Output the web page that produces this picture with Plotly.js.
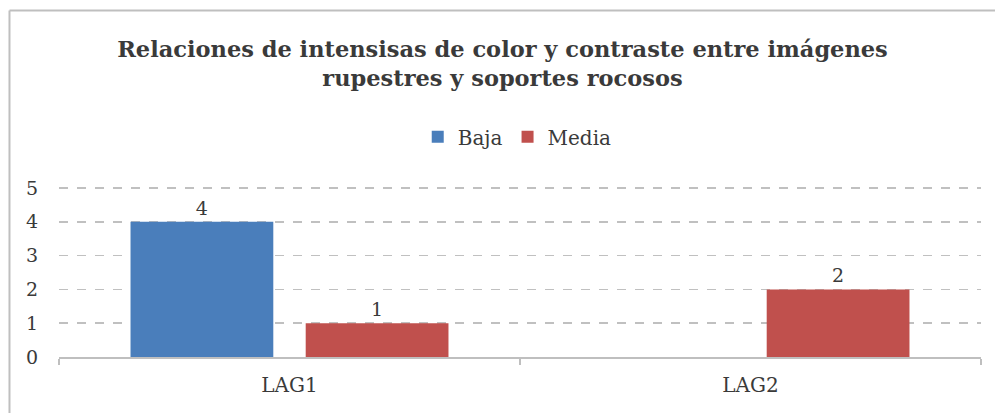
<!DOCTYPE html>
<html><head><meta charset="utf-8">
<script src="https://cdn.plot.ly/plotly-3.0.1.min.js"></script>
<style>html,body{margin:0;padding:0;background:#fff}#chart{width:995px;height:413px}</style>
</head><body><div id="chart"></div>
<script>
const categories = ["LAG1", "LAG2"];
const bajaValues = [4, null];
const mediaValues = [1, 2];
const seriesNames = ["Baja", "Media"];
const yTicks = [0, 1, 2, 3, 4, 5];

const serif = "DejaVu Serif";
const textColor = "#3a3a3a";

const traces = [
  {type: "bar", name: seriesNames[0], x: categories, y: bajaValues,
   marker: {color: "#4a7ebb"}, text: bajaValues.map(v => v == null ? "" : String(v)),
   textposition: "outside", cliponaxis: false,
   textfont: {family: serif, size: 19, color: textColor}},
  {type: "bar", name: seriesNames[1], x: categories, y: mediaValues,
   marker: {color: "#c0504d"}, text: mediaValues.map(v => v == null ? "" : String(v)),
   textposition: "outside", cliponaxis: false,
   textfont: {family: serif, size: 19, color: textColor}}
];

const layout = {
  width: 995, height: 413,
  margin: {l: 59, r: 14, t: 187, b: 56},
  paper_bgcolor: "#ffffff", plot_bgcolor: "#ffffff",
  font: {family: serif, color: textColor, size: 19},
  title: {text: "<b>Relaciones de intensisas de color y contraste entre imágenes<br>rupestres y soportes rocosos</b>",
          font: {family: serif, size: 22.5, color: textColor}, x: 0.505, xanchor: "center", y: 0.862, yanchor: "middle"},
  showlegend: true,
  legend: {orientation: "h", x: 0.497, xanchor: "center", y: 1.295, yanchor: "middle",
           font: {family: serif, size: 20, color: textColor}, traceorder: "normal", itemwidth: 30},
  barmode: "group", bargap: 0.24, bargroupgap: 0.185,
  xaxis: {type: "category", tickson: "boundaries", ticks: "outside", ticklen: 6, tickcolor: "#bfbfbf", tickwidth: 2,
          showline: true, linecolor: "#bfbfbf", linewidth: 2, showgrid: false,
          tickfont: {family: serif, size: 20, color: textColor}, ticklabelstandoff: 9},
  yaxis: {range: [0, 5.03], tickvals: yTicks, showline: false, zeroline: false,
          showgrid: true, gridcolor: "#c0c0c0", griddash: "dash", gridwidth: 1.5,
          tickfont: {family: serif, size: 19, color: textColor}, ticklabelstandoff: 20, fixedrange: true},
  shapes: [
    {type: "line", xref: "paper", yref: "paper", x0: -0.0537, x1: 1.2, y0: 2.038, y1: 2.038, line: {color: "#bfbfbf", width: 2}},
    {type: "line", xref: "paper", yref: "paper", x0: -0.0537, x1: -0.0537, y0: 2.038, y1: -1, line: {color: "#bfbfbf", width: 2}}
  ]
};
Plotly.newPlot("chart", traces, layout, {displayModeBar: false, staticPlot: true});
</script></body></html>
